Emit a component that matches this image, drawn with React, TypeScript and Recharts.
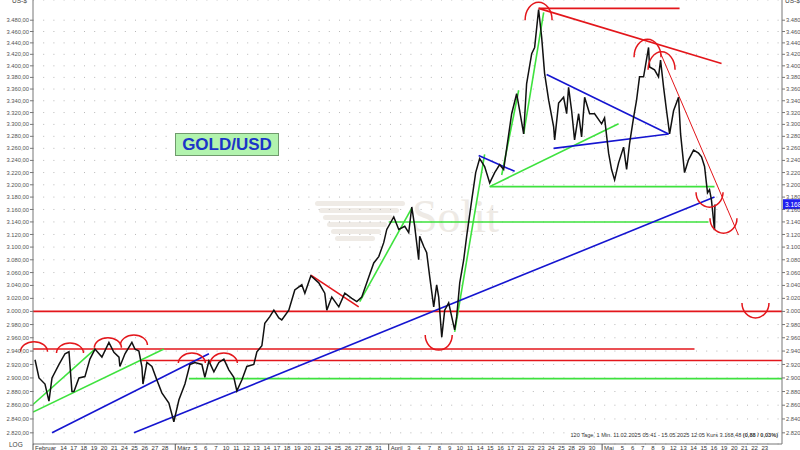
import React from 'react';
import { ComposedChart, Line, XAxis, YAxis, CartesianGrid, ReferenceLine, ReferenceDot } from 'recharts';

// trading days, index = position on the x axis
const dayLabels = [
  'Februar', '', '', '14', '17', '18', '19', '20', '21', '24', '25', '26', '27', '28',
  'März', '', '5', '6', '7', '10', '11', '12', '13', '14', '17', '18', '19', '20', '21', '24', '25', '26', '27', '28', '31',
  'April', '', '3', '4', '7', '8', '9', '10', '11', '14', '15', '16', '17', '21', '22', '23', '24', '25', '28', '29', '30',
  'Mai', '', '5', '6', '7', '8', '9', '12', '13', '14', '15', '16', '19', '20', '21', '22', '23',
];

const yTicks = [
  2820, 2840, 2860, 2880, 2900, 2920, 2940, 2960, 2980, 3000, 3020, 3040, 3060, 3080, 3100, 3120, 3140,
  3160, 3180, 3200, 3220, 3240, 3260, 3280, 3300, 3320, 3340, 3360, 3380, 3400, 3420, 3440, 3460, 3480,
];

// price path (day position, US-$)
const priceDay = [
  0.2, 0.59, 1.18, 1.57, 1.87, 2.56, 3.15, 3.54, 3.83, 4.03, 4.52, 5.11, 5.6, 6.1, 6.78, 7.47, 7.96, 8.46, 8.55,
  9.05, 9.73, 10.03, 10.42, 10.72, 10.82, 11.21, 11.7, 12.19, 12.68, 13.37, 13.86, 14.36, 14.95, 15.44, 15.93,
  16.62, 16.91, 17.31, 17.8, 18.29, 18.78, 19.27, 19.76, 20.06, 20.55, 21.04, 21.73, 22.03, 22.52, 22.81, 23.3,
  23.7, 24.19, 24.48, 25.17, 25.76, 26.45, 26.75, 27.34, 28.12, 28.71, 28.91, 29.4, 30.09, 30.68, 31.37, 31.86,
  32.35, 33.04, 33.53, 34.02, 34.51, 34.81, 35.5, 35.99, 36.58, 36.97, 37.27, 37.56, 37.95, 38.05, 38.45, 38.74,
  39.04, 39.43, 39.72, 39.92, 40.22, 40.51, 40.9, 41.2, 41.49, 41.69, 41.99, 42.38, 42.67, 43.17, 43.56, 43.95,
  44.44, 44.94, 45.43, 45.92, 46.31, 46.61, 47.1, 47.59, 47.89, 48.28, 48.57, 49.07, 49.36, 49.75, 50.05, 50.34,
  50.74, 51.23, 51.33, 51.72, 52.21, 52.51, 52.7, 53.0, 53.29, 53.69, 53.98, 54.28, 54.77, 55.26, 55.95, 56.24,
  56.64, 56.93, 57.23, 57.62, 58.11, 58.41, 58.7, 59.09, 59.39, 59.68, 60.08, 60.57, 60.67, 61.16, 61.55, 61.75,
  62.05, 62.34, 62.64, 63.03, 63.52, 63.72, 64.11, 64.5, 65.0, 65.49, 65.78, 66.08, 66.37, 66.57, 66.76, 67.06, 67.1,
];
const priceUsd = [
  2927, 2900, 2891, 2866, 2900, 2920, 2936, 2939, 2880, 2880, 2900, 2902, 2928, 2943, 2931, 2953, 2938, 2931, 2917,
  2936, 2953, 2943, 2940, 2916, 2891, 2923, 2917, 2897, 2878, 2863, 2836, 2868, 2891, 2920, 2923,
  2920, 2901, 2925, 2909, 2923, 2928, 2912, 2901, 2881, 2897, 2917, 2920, 2939, 2948, 2982, 2992,
  3002, 2990, 2987, 3002, 3033, 3041, 3028, 3055, 3044, 3028, 3002, 3022, 3007, 3028, 3020, 3015,
  3022, 3053, 3075, 3085, 3107, 3128, 3148, 3128, 3133, 3123, 3164, 3133, 3080, 3117, 3101, 3091,
  3053, 3007, 3041, 3022, 2961, 3002, 3013, 2992, 2972, 2992, 3044, 3080, 3117, 3175, 3220, 3243,
  3230, 3203, 3220, 3233, 3225, 3260, 3318, 3352, 3323, 3284, 3369, 3421, 3432, 3499, 3450, 3387,
  3341, 3296, 3274, 3336, 3346, 3318, 3363, 3323, 3274, 3318, 3279, 3346, 3318, 3318, 3301, 3311,
  3252, 3225, 3208, 3236, 3262, 3225, 3268, 3311, 3341, 3381, 3381, 3432, 3398, 3393, 3381, 3410,
  3363, 3323, 3284, 3323, 3346, 3284, 3220, 3241, 3257, 3252, 3246, 3230, 3187, 3192, 3175, 3127, 3168,
];

const lastPrice = 3168.48;

// trend lines: [day, price, day, price]
const redLines = [
  [0, 3000, 73.7, 3000],
  [0, 2943, 65.09, 2943],
  [10.62, 2926, 73.7, 2926],
  [49.75, 3501, 63.62, 3501],
  [49.75, 3501, 67.75, 3404],
  [27.34, 3056, 32.05, 3007],
];
const redThinLines = [[61.75, 3422, 69.42, 3119]];
const greenLines = [
  [0, 2861, 6.1, 2943],
  [0, 2850, 12.88, 2943],
  [15.34, 2899, 73.7, 2899],
  [32.15, 3015, 37.27, 3162],
  [41.49, 2969, 44.44, 3250],
  [46.12, 3216, 47.79, 3358],
  [48.28, 3284, 50.25, 3494],
  [44.94, 3197, 57.62, 3301],
  [44.94, 3197, 67.06, 3197],
  [35.0, 3140, 66.47, 3140],
];
const blueLines = [
  [1.87, 2820, 17.31, 2936],
  [9.93, 2820, 67.06, 3180],
  [50.54, 3385, 62.54, 3284],
  [51.23, 3260, 62.54, 3284],
  [43.85, 3248, 47.39, 3222],
];

// arcs: [day, price] of the arc base centre
const arcsFlat = [[0.1, 2939], [3.64, 2937], [7.37, 2945], [9.93, 2949], [15.63, 2922], [18.78, 2922]];
const arcsTall = [[49.75, 3480], [60.47, 3415], [61.85, 3393]];
const arcsCup = [[39.92, 2964], [66.57, 3188], [67.94, 3146], [71.09, 3013]];

const priceData = priceDay.map((d, k) => ({ d, p: priceUsd[k] }));
const dayTicks = dayLabels.map((_, i) => i);

const FONT = '"Liberation Sans", Arial, sans-serif';
const RED = '#e3161b';
const GREEN = '#3ee23e';
const BLUE = '#1515d0';

const fmt = (v: number) => {
  const s = v.toFixed(2).replace('.', ',');
  const [a, b] = s.split(',');
  return a.replace(/\B(?=(\d{3})+(?!\d))/g, '.') + ',' + b;
};

const DayTick = ({ x, y, payload }: any) => {
  const label = dayLabels[payload.value] ?? '';
  if (!label) return <g />;
  if (isNaN(Number(label))) {
    return (
      <g>
        <line x1={x} y1={y} x2={x} y2={y + 6} stroke="#555" strokeWidth={1} />
        <text x={x + 2} y={y + 5.5} fontSize={6} fill="#333" fontFamily={FONT}>{label}</text>
      </g>
    );
  }
  return (
    <text x={x} y={y + 5.5} fontSize={6} fill="#333" textAnchor="middle" fontFamily={FONT}>{label}</text>
  );
};

const arcShape = (w: number, h: number, up: boolean) => (props: any) => {
  const { cx, cy } = props;
  return (
    <path
      d={`M ${cx - w / 2} ${cy} A ${w / 2} ${h} 0 0 ${up ? 1 : 0} ${cx + w / 2} ${cy}`}
      fill="none"
      stroke={RED}
      strokeWidth={1.5}
    />
  );
};

const PriceTag = (props: any) => {
  const { cx, cy } = props;
  return (
    <g>
      <rect x={cx + 1} y={cy - 5} width={20} height={10} fill="#2020f0" />
      <text x={cx + 3} y={cy + 2.5} fontSize={6.5} fill="#fff" fontFamily={FONT}>{fmt(lastPrice)}</text>
    </g>
  );
};

const segs = (lines: number[][], color: string, width: number, tag: string) =>
  lines.map((l, k) => (
    <ReferenceLine
      key={tag + k}
      yAxisId="left"
      segment={[{ x: l[0], y: l[1] }, { x: l[2], y: l[3] }]}
      stroke={color}
      strokeWidth={width}
      ifOverflow="hidden"
    />
  ));

const arcs = (list: number[][], w: number, h: number, up: boolean, tag: string) =>
  list.map((a, k) => (
    <ReferenceDot
      key={tag + k}
      yAxisId="left"
      x={a[0]}
      y={a[1]}
      ifOverflow="hidden"
      shape={arcShape(w, h, up)}
    />
  ));

export default function App() {
  return (
    <div style={{ position: 'absolute', left: 0, top: 0, width: 800, height: 450, background: '#fff', fontFamily: FONT, overflow: 'hidden' }}>
      {/* watermark */}
      <div style={{ position: 'absolute', left: 305, top: 196, width: 100, height: 50 }}>
        {[0, 1, 2, 3, 4, 5].map((k) => (
          <div
            key={k}
            style={{
              position: 'absolute',
              left: 10 + (5 - k) * 4,
              top: 40 - k * 7,
              width: 80 - (5 - k) * 8 + k * 2,
              height: 5,
              borderRadius: 4,
              background: '#efebe6',
            }}
          />
        ))}
      </div>
      <div style={{ position: 'absolute', left: 412, top: 190, fontSize: 46, fontFamily: '"Liberation Serif", serif', color: '#eeeae5' }}>
        Solit
      </div>

      <ComposedChart width={800} height={450} data={priceData} margin={{ top: 0, right: 0, bottom: 0, left: 0 }}>
        <CartesianGrid yAxisId="left" vertical={false} stroke="#b8b8b8" strokeDasharray="1 9.2" />
        <XAxis
          dataKey="d"
          type="number"
          domain={[0, 73.7]}
          allowDataOverflow
          ticks={dayTicks}
          interval={0}
          tick={<DayTick />}
          tickLine={false}
          tickSize={0}
          tickMargin={0}
          height={6}
          stroke="#777"
        />
        <YAxis
          yAxisId="left"
          type="number"
          scale="log"
          domain={[2804, 3516]}
          allowDataOverflow
          ticks={yTicks}
          interval={0}
          width={33}
          tickSize={3}
          tickMargin={1}
          tickFormatter={fmt}
          tick={{ fontSize: 5.8, fill: '#555', fontFamily: FONT }}
          stroke="#777"
        />
        <YAxis
          yAxisId="right"
          orientation="right"
          type="number"
          scale="log"
          domain={[2804, 3516]}
          allowDataOverflow
          ticks={yTicks}
          interval={0}
          width={18}
          tickSize={3}
          tickMargin={1}
          tickFormatter={fmt}
          tick={{ fontSize: 5.8, fill: '#555', fontFamily: FONT }}
          stroke="#777"
        />
        {segs(redLines, RED, 1.6, 'r')}
        {segs(redThinLines, RED, 1, 'rt')}
        {segs(greenLines, GREEN, 1.6, 'g')}
        {segs(blueLines, BLUE, 1.6, 'b')}
        <Line
          yAxisId="left"
          dataKey="p"
          type="linear"
          stroke="#111"
          strokeWidth={1.5}
          dot={false}
          isAnimationActive={false}
        />
        {arcs(arcsFlat, 27, 10, true, 'af')}
        {arcs(arcsTall, 27, 18, true, 'at')}
        {arcs(arcsCup, 27, 15, false, 'ac')}
        <ReferenceDot yAxisId="left" x={73.7} y={lastPrice} ifOverflow="visible" shape={PriceTag} />
      </ComposedChart>

      <div style={{ position: 'absolute', left: 175, top: 133, width: 102, height: 21, background: '#b2f3ae', border: '1px solid #6f9a6c', display: 'flex', alignItems: 'center', justifyContent: 'center', color: '#1b34c8', fontWeight: 'bold', fontSize: 17, fontFamily: FONT }}>
        GOLD/USD
      </div>
      <div style={{ position: 'absolute', left: 12, top: -3, fontSize: 6.5, color: '#444' }}>US-$</div>
      <div style={{ position: 'absolute', left: 785, top: -3, fontSize: 6.5, color: '#444' }}>US-$</div>
      <div style={{ position: 'absolute', left: 9, top: 441, fontSize: 6.5, color: '#444' }}>LOG</div>
      <div style={{ position: 'absolute', right: 22, top: 432, fontSize: 5.6, color: '#333', whiteSpace: 'nowrap' }}>
        120 Tage, 1 Min. 11.02.2025 05:41 - 15.05.2025 12:05 Kurs 3.168,48 <b>(0,88 / 0,03%)</b>
      </div>
    </div>
  );
}
